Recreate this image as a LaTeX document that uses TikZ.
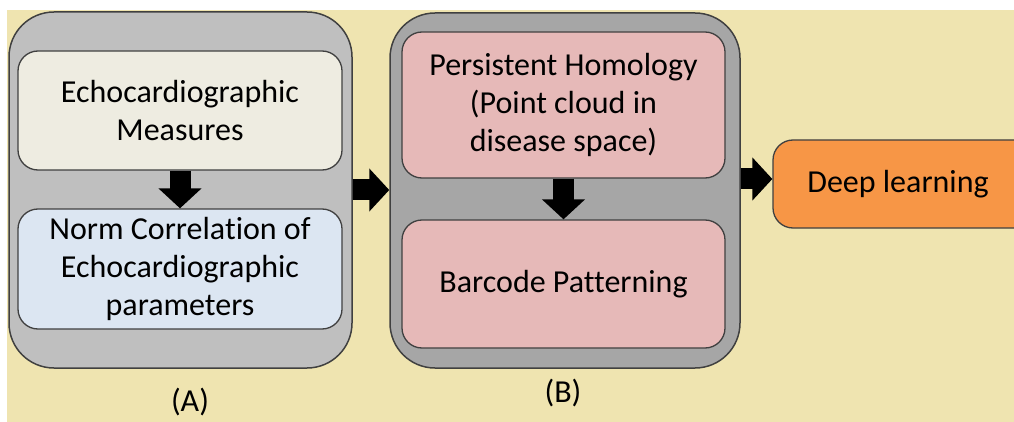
\documentclass[tikz,border=0pt]{standalone}
\usepackage{fontspec}
\setmainfont[Ligatures=NoCommon]{Carlito}
\usetikzlibrary{arrows.meta,calc}
\definecolor{bgbeige}{HTML}{EFE4B0}
\definecolor{grayA}{HTML}{BFBFBF}
\definecolor{grayB}{HTML}{A6A6A6}
\definecolor{creamfill}{HTML}{EEECE1}
\definecolor{bluefill}{HTML}{DCE6F2}
\definecolor{pinkfill}{HTML}{E6B9B8}
\definecolor{orangefill}{HTML}{F79646}
\definecolor{edgegray}{HTML}{404040}
\tikzset{
  outerbox/.style={draw=edgegray, line width=1.5pt, rounded corners=45pt, inner sep=0pt},
  innerbox/.style={draw=edgegray, line width=1.3pt, rounded corners=20pt, inner sep=0pt,
    align=center, font=\fontsize{32}{38}\selectfont},
  lbl/.style={font=\fontsize{32}{38}\selectfont, inner sep=0pt},
  blockarrow/.style={line width=21pt, draw=black, -{Triangle[length=20pt,width=42pt]}},
}
\begin{document}
\begin{tikzpicture}[x=1pt,y=-1pt]
\useasboundingbox (0,0) rectangle (1014,422);
\clip (0,0) rectangle (1014,422);
\fill[white] (0,0) rectangle (1014,422);
\fill[bgbeige] (7,10) rectangle (1014,422);
% group A
\node[outerbox, fill=grayA, minimum width=343pt, minimum height=356pt] (A) at (180.5,190) {};
\node[innerbox, fill=creamfill, minimum width=324pt, minimum height=119pt] (A1) at (180,110.5)
  {Echocardiographic\\Measures};
\node[innerbox, fill=bluefill, minimum width=324pt, minimum height=120pt] (A2) at (180,269)
  {Norm Correlation of\\Echocardiographic\\parameters};
\node[lbl] (LA) at (190,402) {(A)};
% group B
\node[outerbox, fill=grayB, minimum width=350pt, minimum height=355pt] (B) at (565,190.5) {};
\node[innerbox, fill=pinkfill, minimum width=323pt, minimum height=146pt] (B1) at (563.5,105)
  {Persistent Homology\\(Point cloud in\\disease space)};
\node[innerbox, fill=pinkfill, minimum width=323pt, minimum height=128pt] (B2) at (563.5,284)
  {Barcode Patterning};
\node[lbl] (LB) at (563,393) {(B)};
% deep learning (runs off the right edge)
\node[innerbox, fill=orangefill, minimum width=270pt, minimum height=88pt] (D) at (908,184)
  {Deep learning\hspace*{20pt}};
% arrows
\draw[blockarrow] (A1.south) -- (A2.north);
\draw[blockarrow] (B1.south) -- (B2.north);
\draw[blockarrow] (A.east) -- (B.west |- A.east);
\coordinate (r) at (0,179);
\draw[blockarrow] (B.east |- r) -- (D.west |- r);
\end{tikzpicture}
\end{document}
